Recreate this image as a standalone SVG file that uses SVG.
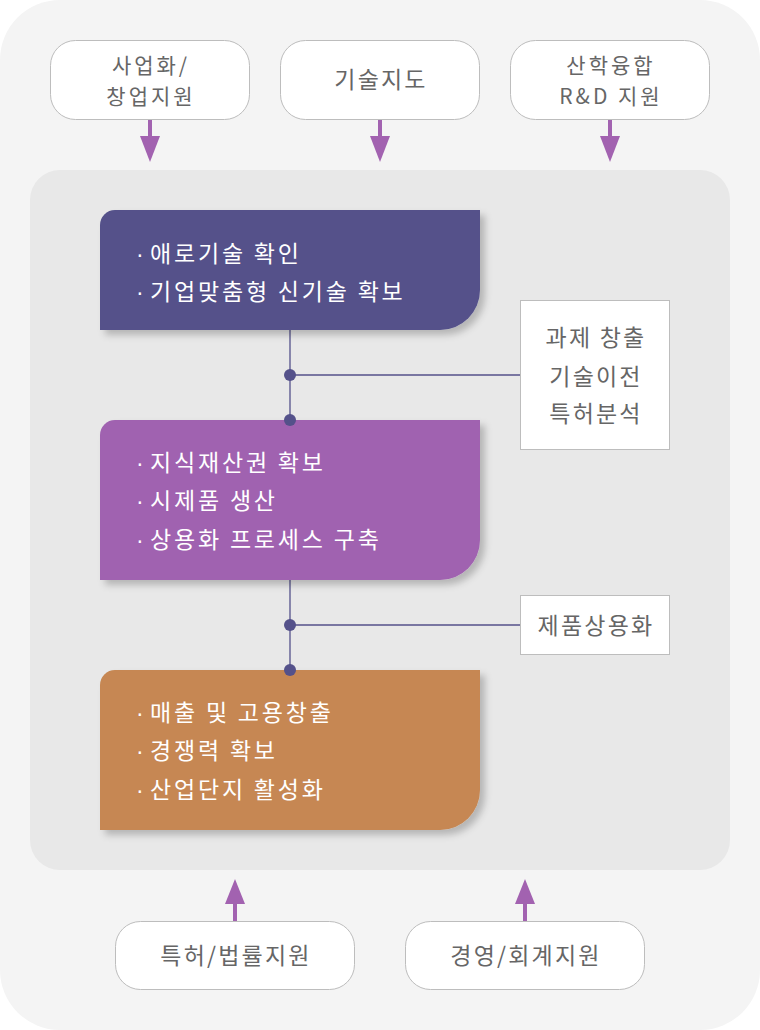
<svg xmlns="http://www.w3.org/2000/svg" width="760" height="1030" viewBox="0 0 760 1030">
<defs>
<style>
.t{font-family:"Noto Sans CJK KR","Noto Sans",sans-serif;font-size:23px;letter-spacing:2.2px;fill:#666;text-anchor:middle}
.s{font-size:21px;letter-spacing:3px}
.w{font-family:"Noto Sans CJK KR","Noto Sans",sans-serif;font-size:23px;letter-spacing:2.8px;fill:#fff}
.b{font-family:"Liberation Sans",sans-serif;letter-spacing:0}
.pill{fill:#fff;stroke:#bdbdbd;stroke-width:1}
.side{fill:#fff;stroke:#bdbdbd;stroke-width:1}
.ln{stroke:#54518a;stroke-width:1.3;fill:none}
.dot{fill:#54518a}
.arr{fill:#a262b0}
</style>
<filter id="sh" x="-10%" y="-10%" width="130%" height="140%">
<feDropShadow dx="5" dy="5" stdDeviation="3.5" flood-color="#000" flood-opacity="0.22"/>
</filter>
</defs>
<rect x="0" y="0" width="760" height="1030" rx="60" fill="#f4f4f4"/>
<rect x="30" y="170" width="700" height="700" rx="30" fill="#e8e8e8"/>

<g id="connectors">
<rect class="arr" x="148" y="120" width="4" height="18"/><polygon class="arr" points="140,136 160,136 150,162"/>
<rect class="arr" x="378" y="120" width="4" height="18"/><polygon class="arr" points="370,136 390,136 380,162"/>
<rect class="arr" x="608" y="120" width="4" height="18"/><polygon class="arr" points="600,136 620,136 610,162"/>
<rect class="arr" x="233" y="902" width="4" height="19"/><polygon class="arr" points="225,904 245,904 235,879"/>
<rect class="arr" x="523" y="902" width="4" height="19"/><polygon class="arr" points="515,904 535,904 525,879"/>
<line class="ln" x1="290" y1="330" x2="290" y2="420"/>
<line class="ln" x1="290" y1="375" x2="520" y2="375"/>
<line class="ln" x1="290" y1="580" x2="290" y2="670"/>
<line class="ln" x1="290" y1="625" x2="520" y2="625"/>
</g>

<g id="top1"><rect class="pill" x="50.5" y="40.5" width="199" height="79" rx="25"/>
<text class="t s" x="151" y="73">사업화/</text><text class="t s" x="151" y="104">창업지원</text></g>
<g id="top2"><rect class="pill" x="280.5" y="40.5" width="199" height="79" rx="25"/>
<text class="t" x="381" y="88">기술지도</text></g>
<g id="top3"><rect class="pill" x="510.5" y="40.5" width="199" height="79" rx="25"/>
<text class="t s" x="611" y="73">산학융합</text><text class="t s" x="611" y="104">R&amp;D 지원</text></g>

<g id="boxA"><path filter="url(#sh)" fill="#54518a" d="M115,210 H480 V290 A40,40 0 0 1 440,330 H100 V225 A15,15 0 0 1 115,210 Z"/>
<text class="w" x="136" y="262"><tspan class="b">· </tspan>애로기술 확인</text>
<text class="w" x="136" y="300"><tspan class="b">· </tspan>기업맞춤형 신기술 확보</text></g>

<g id="boxB"><path filter="url(#sh)" fill="#a062b0" d="M115,420 H480 V540 A40,40 0 0 1 440,580 H100 V435 A15,15 0 0 1 115,420 Z"/>
<text class="w" x="136" y="471"><tspan class="b">· </tspan>지식재산권 확보</text>
<text class="w" x="136" y="509"><tspan class="b">· </tspan>시제품 생산</text>
<text class="w" x="136" y="548"><tspan class="b">· </tspan>상용화 프로세스 구축</text></g>

<g id="boxC"><path filter="url(#sh)" fill="#c68752" d="M115,670 H480 V790 A40,40 0 0 1 440,830 H100 V685 A15,15 0 0 1 115,670 Z"/>
<text class="w" x="136" y="721"><tspan class="b">· </tspan>매출 및 고용창출</text>
<text class="w" x="136" y="759"><tspan class="b">· </tspan>경쟁력 확보</text>
<text class="w" x="136" y="798"><tspan class="b">· </tspan>산업단지 활성화</text></g>

<g id="dots">
<circle class="dot" cx="290" cy="375" r="6"/><circle class="dot" cx="290" cy="420" r="6"/>
<circle class="dot" cx="290" cy="625" r="6"/><circle class="dot" cx="290" cy="670" r="6"/>
</g>

<g id="side1"><rect class="side" x="520.5" y="300.5" width="149" height="149"/>
<text class="t" x="596" y="346">과제 창출<tspan x="596" dy="39">기술이전</tspan><tspan x="596" dy="37">특허분석</tspan></text></g>
<g id="side2"><rect class="side" x="520.5" y="595.5" width="149" height="59"/>
<text class="t" x="596" y="634">제품상용화</text></g>

<g id="bot1"><rect class="pill" x="115.5" y="921.5" width="239" height="68" rx="25"/>
<text class="t" x="236" y="964">특허/법률지원</text></g>
<g id="bot2"><rect class="pill" x="405.5" y="921.5" width="239" height="68" rx="25"/>
<text class="t" x="526" y="964">경영/회계지원</text></g>
</svg>
